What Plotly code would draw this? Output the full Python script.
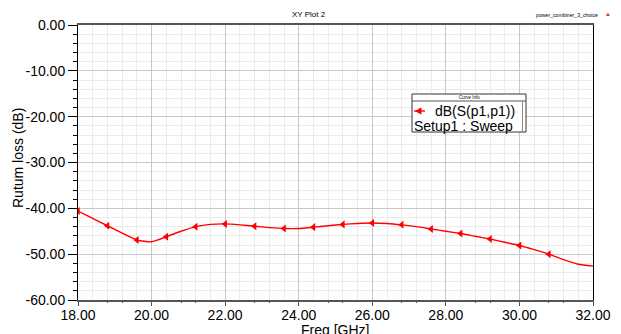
import plotly.graph_objects as go

# ---------------- data ----------------
freq_markers = [18.0, 18.8, 19.6, 20.4, 21.2, 22.0, 22.8, 23.6, 24.4, 25.2,
                26.0, 26.8, 27.6, 28.4, 29.2, 30.0, 30.8]
loss_markers = [-40.6, -43.8, -46.9, -46.2, -44.0, -43.4, -43.9, -44.4, -44.1, -43.5,
                -43.2, -43.6, -44.5, -45.5, -46.7, -48.1, -50.0]

freq_curve = [18.0, 18.4, 18.8, 19.2, 19.6, 20.0, 20.4, 20.8, 21.2, 21.6, 22.0, 22.4,
              22.8, 23.2, 23.6, 24.0, 24.4, 24.8, 25.2, 25.6, 26.0, 26.4, 26.8, 27.2,
              27.6, 28.0, 28.4, 28.8, 29.2, 29.6, 30.0, 30.4, 30.8, 31.2, 31.6, 32.0]
loss_curve = [-40.6, -42.2, -43.8, -45.4, -46.9, -47.3, -46.2, -45.0, -44.0, -43.5, -43.4, -43.6,
              -43.9, -44.2, -44.4, -44.4, -44.1, -43.8, -43.5, -43.3, -43.2, -43.3, -43.6, -44.0,
              -44.5, -45.0, -45.5, -46.1, -46.7, -47.4, -48.1, -49.0, -50.0, -51.2, -52.2, -52.6]

x_ticks = [18, 20, 22, 24, 26, 28, 30, 32]
x_tick_labels = ["18.00", "20.00", "22.00", "24.00", "26.00", "28.00", "30.00", "32.00"]
x_small_ticks = [18.8, 19.2, 20.8, 21.2, 22.8, 23.2, 24.8, 25.2, 26.8, 27.2, 28.8, 29.2, 30.8, 31.2]
y_ticks = [0, -10, -20, -30, -40, -50, -60]
y_tick_labels = ["0.00", "-10.00", "-20.00", "-30.00", "-40.00", "-50.00", "-60.00"]

series_name = "dB(S(p1,p1))"
series_setup = "Setup1 : Sweep"
legend_title = "Curve Info"
plot_title = "XY Plot 2"
design_name = "power_combiner_3_choice"
x_title = "Freq [GHz]"
y_title = "Rutum loss (dB)"

# ---------------- layout helpers ----------------
W, H = 621, 334
L, R, T, B = 78, 28, 25, 34
PW, PH = W - L - R, H - T - B


def px(x):
    return (x - L) / PW


def py(y):
    return (H - B - y) / PH


FONT = "Liberation Sans, Arial, sans-serif"
RED = "#ff0000"

fig = go.Figure()

fig.add_trace(go.Scatter(
    x=freq_curve, y=loss_curve, mode="lines",
    line=dict(color=RED, width=1.4, shape="spline", smoothing=0.6),
    showlegend=False, hoverinfo="skip"))

fig.add_trace(go.Scatter(
    x=freq_markers, y=loss_markers, mode="markers",
    marker=dict(symbol="triangle-left", size=7, color=RED),
    showlegend=False, name=series_name))

# invisible trace for the overlay axis carrying the small bottom ticks
fig.add_trace(go.Scatter(
    x=freq_markers, y=loss_markers, mode="markers", xaxis="x2",
    marker=dict(opacity=0), showlegend=False, hoverinfo="skip"))

fig.update_layout(
    width=W, height=H,
    margin=dict(l=L, r=R, t=T, b=B, autoexpand=False),
    paper_bgcolor="white", plot_bgcolor="white",
    font=dict(family=FONT, color="black", size=14),
    xaxis=dict(
        range=[18, 32], tickmode="array", tickvals=x_ticks, ticktext=x_tick_labels,
        ticks="outside", ticklen=4, tickcolor="#555", tickwidth=1,
        tickfont=dict(size=14, family=FONT), ticklabelstandoff=-3,
        showgrid=True, gridcolor="#c8c8c8", gridwidth=1,
        minor=dict(tick0=18, dtick=0.4, showgrid=True, gridcolor="#ebebeb", gridwidth=1, ticks=""),
        showline=True, linecolor="#555", linewidth=2, mirror=True,
        zeroline=False, fixedrange=True, automargin=False),
    xaxis2=dict(
        overlaying="x", matches="x", range=[18, 32], side="bottom",
        tickmode="array", tickvals=x_small_ticks, showticklabels=False,
        ticks="outside", ticklen=2, tickcolor="#555", tickwidth=1,
        showgrid=False, showline=False, zeroline=False, automargin=False),
    yaxis=dict(
        range=[-60, 0], tickmode="array", tickvals=y_ticks, ticktext=y_tick_labels,
        ticks="outside", ticklen=9, tickcolor="black", tickwidth=1,
        tickfont=dict(size=14, family=FONT),
        showgrid=True, gridcolor="#c8c8c8", gridwidth=1,
        minor=dict(tick0=0, dtick=2, showgrid=True, gridcolor="#ebebeb", gridwidth=1,
                   ticks="outside", ticklen=4, tickcolor="black"),
        showline=True, linecolor="black", linewidth=1, mirror=True,
        zeroline=False, fixedrange=True, automargin=False),
)

annotations = [
    dict(text=plot_title, x=px(309), y=py(15), font=dict(size=8, family=FONT)),
    dict(text=design_name, x=px(567), y=py(15), font=dict(size=5.2, family=FONT)),
    dict(text="▲", x=px(608), y=py(14), font=dict(size=6, color="#cc3333", family=FONT)),
    dict(text=x_title, x=px(335), y=py(330), font=dict(size=14, family=FONT)),
    dict(text=y_title, x=px(18), y=py(158), textangle=-90, font=dict(size=14, family=FONT)),
    dict(text=legend_title, x=px(469), y=py(97.5), font=dict(size=4.5, family=FONT)),
    dict(text=series_name, x=px(434), y=py(110.5), xanchor="left", font=dict(size=14, family=FONT)),
    dict(text=series_setup, x=px(413), y=py(125.5), xanchor="left", font=dict(size=14, family=FONT)),
]
for a in annotations:
    a.setdefault("xanchor", "center")
    a.update(xref="paper", yref="paper", yanchor="middle", showarrow=False, borderpad=0)
fig.update_layout(annotations=annotations)

shapes = [
    # legend box
    dict(type="rect", x0=px(412), x1=px(526), y0=py(132), y1=py(94),
         line=dict(color="#333", width=1), fillcolor="white", layer="above"),
    dict(type="line", x0=px(412), x1=px(526), y0=py(101), y1=py(101),
         line=dict(color="#555", width=1), layer="above"),
    dict(type="line", x0=px(522.5), x1=px(522.5), y0=py(101), y1=py(132),
         line=dict(color="#888", width=1), layer="above"),
    # legend line sample
    dict(type="line", x0=px(414), x1=px(425), y0=py(111), y1=py(111),
         line=dict(color=RED, width=1.4), layer="above"),
    dict(type="path",
         path="M {} {} L {} {} L {} {} Z".format(px(416), py(111), px(421), py(108), px(421), py(114)),
         line=dict(color=RED, width=1), fillcolor=RED, layer="above"),
]
for s in shapes:
    s.update(xref="paper", yref="paper")
fig.update_layout(shapes=shapes)

fig.write_html(
    "out.html",
    config={"displayModeBar": False},
    post_script="document.body.style.margin='0px';document.body.style.overflow='hidden';",
)
